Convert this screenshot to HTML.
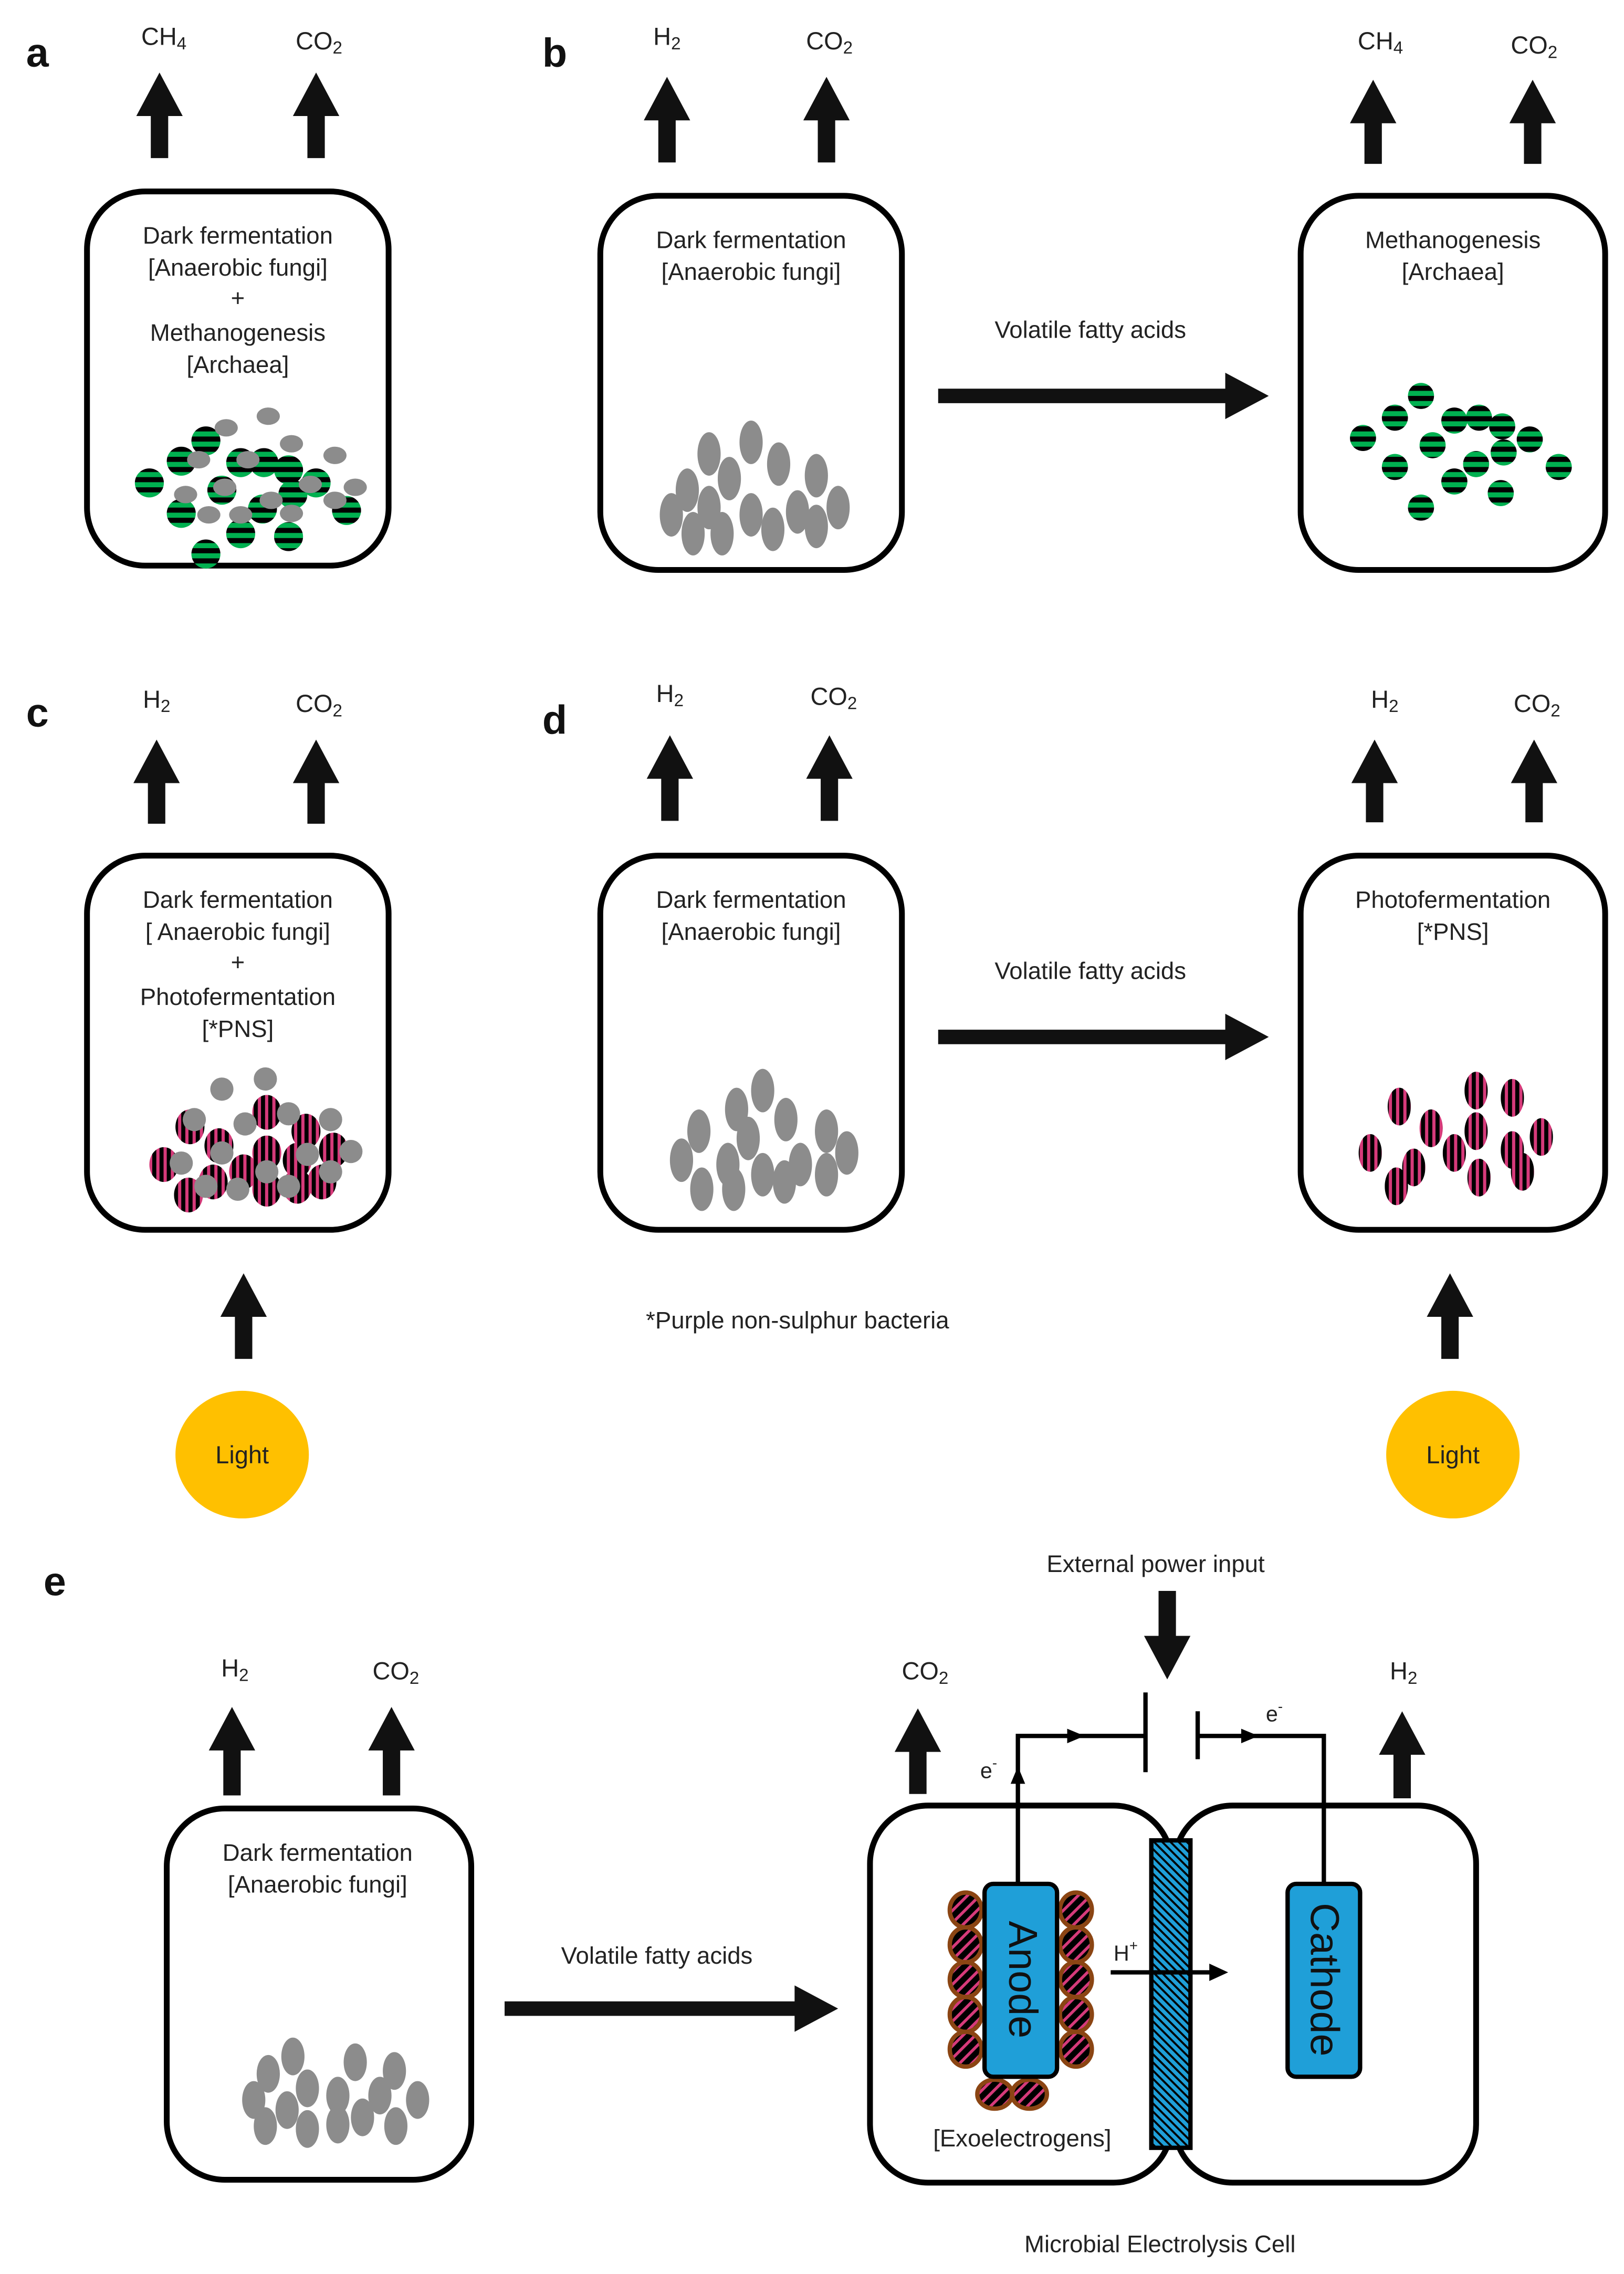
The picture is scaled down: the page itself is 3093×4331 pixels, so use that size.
<!DOCTYPE html>
<html><head><meta charset="utf-8"><style>html,body{margin:0;padding:0;background:#fff}svg{display:block}</style></head>
<body>
<svg xmlns="http://www.w3.org/2000/svg" width="3093" height="4331" viewBox="0 0 1120 1568" preserveAspectRatio="none" font-family="Liberation Sans, sans-serif">
<defs>
<pattern id="gr" patternUnits="userSpaceOnUse" width="8" height="7"><rect width="8" height="7" fill="#000"/><rect y="3.5" width="8" height="3.5" fill="#00B050"/></pattern>
<pattern id="pk" patternUnits="userSpaceOnUse" width="5" height="8"><rect width="5" height="8" fill="#000"/><rect x="2.8" width="2.2" height="8" fill="#D63A7A"/></pattern>
<pattern id="ex" patternUnits="userSpaceOnUse" width="6" height="6" patternTransform="rotate(45)"><rect width="6" height="6" fill="#000"/><rect x="3" width="2" height="6" fill="#D63A7A"/></pattern>
<pattern id="mem" patternUnits="userSpaceOnUse" width="4" height="4" patternTransform="rotate(-45)"><rect width="4" height="4" fill="#1F9FD8"/><rect width="1.4" height="4" fill="#000"/></pattern>
</defs>
<rect width="1120" height="1568" fill="#fff"/>

<g font-weight="bold" font-size="28" fill="#111">
<text x="18" y="46">a</text><text x="374" y="46">b</text><text x="18" y="501">c</text><text x="374" y="506">d</text><text x="30" y="1100">e</text>
</g>

<g fill="#111">
<!-- up arrows -->
<polygon points="110,50 126,80 116,80 116,109 104,109 104,80 94,80"/>
<polygon points="218,50 234,80 224,80 224,109 212,109 212,80 202,80"/>
<polygon points="460,53 476,83 466,83 466,112 454,112 454,83 444,83"/>
<polygon points="570,53 586,83 576,83 576,112 564,112 564,83 554,83"/>
<polygon points="947,55 963,85 953,85 953,113 941,113 941,85 931,85"/>
<polygon points="1057,55 1073,85 1063,85 1063,113 1051,113 1051,85 1041,85"/>
<polygon points="108,510 124,540 114,540 114,568 102,568 102,540 92,540"/>
<polygon points="218,510 234,540 224,540 224,568 212,568 212,540 202,540"/>
<polygon points="462,507 478,537 468,537 468,566 456,566 456,537 446,537"/>
<polygon points="572,507 588,537 578,537 578,566 566,566 566,537 556,537"/>
<polygon points="948,510 964,540 954,540 954,567 942,567 942,540 932,540"/>
<polygon points="1058,510 1074,540 1064,540 1064,567 1052,567 1052,540 1042,540"/>
<polygon points="168,878 184,908 174,908 174,937 162,937 162,908 152,908"/>
<polygon points="1000,878 1016,908 1006,908 1006,937 994,937 994,908 984,908"/>
<polygon points="160,1177 176,1207 166,1207 166,1238 154,1238 154,1207 144,1207"/>
<polygon points="270,1177 286,1207 276,1207 276,1238 264,1238 264,1207 254,1207"/>
<polygon points="633,1178 649,1208 639,1208 639,1237 627,1237 627,1208 617,1208"/>
<polygon points="967,1180 983,1210 973,1210 973,1240 961,1240 961,1210 951,1210"/>
<!-- down arrow -->
<polygon points="805,1158 821,1128 811,1128 811,1097 799,1097 799,1128 789,1128"/>
<!-- horizontal arrows -->
<polygon points="647,268 845,268 845,257 875,273 845,289 845,278 647,278"/>
<polygon points="647,710 845,710 845,699 875,715 845,731 845,720 647,720"/>
<polygon points="348,1380 548,1380 548,1369 578,1385 548,1401 548,1390 348,1390"/>
</g>

<g font-size="17" fill="#222" text-anchor="middle">
<text x="113" y="31">CH<tspan font-size="12" dy="3">4</tspan></text>
<text x="220" y="34">CO<tspan font-size="12" dy="3">2</tspan></text>
<text x="460" y="31">H<tspan font-size="12" dy="3">2</tspan></text>
<text x="572" y="34">CO<tspan font-size="12" dy="3">2</tspan></text>
<text x="952" y="34">CH<tspan font-size="12" dy="3">4</tspan></text>
<text x="1058" y="37">CO<tspan font-size="12" dy="3">2</tspan></text>
<text x="108" y="488">H<tspan font-size="12" dy="3">2</tspan></text>
<text x="220" y="491">CO<tspan font-size="12" dy="3">2</tspan></text>
<text x="462" y="484">H<tspan font-size="12" dy="3">2</tspan></text>
<text x="575" y="486">CO<tspan font-size="12" dy="3">2</tspan></text>
<text x="955" y="488">H<tspan font-size="12" dy="3">2</tspan></text>
<text x="1060" y="491">CO<tspan font-size="12" dy="3">2</tspan></text>
<text x="162" y="1156">H<tspan font-size="12" dy="3">2</tspan></text>
<text x="273" y="1158">CO<tspan font-size="12" dy="3">2</tspan></text>
<text x="638" y="1158">CO<tspan font-size="12" dy="3">2</tspan></text>
<text x="968" y="1158">H<tspan font-size="12" dy="3">2</tspan></text>
</g>

<!-- boxes -->
<g fill="none" stroke="#000" stroke-width="4">
<rect x="60" y="132" width="208" height="258" rx="40"/>
<rect x="414" y="135" width="208" height="258" rx="40"/>
<rect x="897" y="135" width="210" height="258" rx="40"/>
<rect x="60" y="590" width="208" height="258" rx="40"/>
<rect x="414" y="590" width="208" height="258" rx="40"/>
<rect x="897" y="590" width="210" height="258" rx="40"/>
<rect x="115" y="1247" width="210" height="256" rx="40"/>
<rect x="600" y="1245" width="208" height="260" rx="40"/>
<rect x="810" y="1245" width="208" height="260" rx="40"/>
</g>

<g font-size="16.5" fill="#222" text-anchor="middle">
<text x="164" y="168">Dark fermentation</text><text x="164" y="190">[Anaerobic fungi]</text><text x="164" y="211">+</text><text x="164" y="235">Methanogenesis</text><text x="164" y="257">[Archaea]</text>
<text x="518" y="171">Dark fermentation</text><text x="518" y="193">[Anaerobic fungi]</text>
<text x="1002" y="171">Methanogenesis</text><text x="1002" y="193">[Archaea]</text>
<text x="752" y="233">Volatile fatty acids</text>
<text x="164" y="626">Dark fermentation</text><text x="164" y="648">[ Anaerobic fungi]</text><text x="164" y="669">+</text><text x="164" y="693">Photofermentation</text><text x="164" y="715">[*PNS]</text>
<text x="518" y="626">Dark fermentation</text><text x="518" y="648">[Anaerobic fungi]</text>
<text x="1002" y="626">Photofermentation</text><text x="1002" y="648">[*PNS]</text>
<text x="752" y="675">Volatile fatty acids</text>
<text x="550" y="916">*Purple non-sulphur bacteria</text>
<text x="219" y="1283">Dark fermentation</text><text x="219" y="1305">[Anaerobic fungi]</text>
<text x="453" y="1354">Volatile fatty acids</text>
<text x="797" y="1084">External power input</text>
<text x="705" y="1480">[Exoelectrogens]</text>
<text x="800" y="1553">Microbial Electrolysis Cell</text>
</g>

<!-- panel a cells -->
<g fill="url(#gr)">
<circle cx="103" cy="333" r="10"/><circle cx="125" cy="318" r="10"/><circle cx="142" cy="304" r="10"/><circle cx="125" cy="354" r="10"/><circle cx="153" cy="338" r="10"/><circle cx="166" cy="319" r="10"/><circle cx="182" cy="319" r="10"/><circle cx="199" cy="324" r="10"/><circle cx="218" cy="333" r="10"/><circle cx="202" cy="341" r="10"/><circle cx="181" cy="351" r="10"/><circle cx="166" cy="368" r="10"/><circle cx="199" cy="370" r="10"/><circle cx="239" cy="352" r="10"/><circle cx="142" cy="382" r="10"/>
</g>
<g fill="#8c8c8c">
<ellipse cx="156" cy="295" rx="8" ry="6"/><ellipse cx="185" cy="287" rx="8" ry="6"/><ellipse cx="201" cy="306" rx="8" ry="6"/><ellipse cx="231" cy="314" rx="8" ry="6"/><ellipse cx="137" cy="317" rx="8" ry="6"/><ellipse cx="171" cy="317" rx="8" ry="6"/><ellipse cx="155" cy="336" rx="8" ry="6"/><ellipse cx="128" cy="341" rx="8" ry="6"/><ellipse cx="214" cy="334" rx="8" ry="6"/><ellipse cx="245" cy="336" rx="8" ry="6"/><ellipse cx="187" cy="345" rx="8" ry="6"/><ellipse cx="144" cy="355" rx="8" ry="6"/><ellipse cx="166" cy="355" rx="8" ry="6"/><ellipse cx="201" cy="354" rx="8" ry="6"/><ellipse cx="231" cy="345" rx="8" ry="6"/>
</g>

<!-- grey fungi b, d, e -->
<g fill="#8c8c8c" id="gb">
<ellipse cx="518" cy="305" rx="8" ry="15"/><ellipse cx="489" cy="313" rx="8" ry="15"/><ellipse cx="537" cy="320" rx="8" ry="15"/><ellipse cx="503" cy="330" rx="8" ry="15"/><ellipse cx="474" cy="338" rx="8" ry="15"/><ellipse cx="563" cy="328" rx="8" ry="15"/><ellipse cx="489" cy="350" rx="8" ry="15"/><ellipse cx="550" cy="353" rx="8" ry="15"/><ellipse cx="578" cy="350" rx="8" ry="15"/><ellipse cx="463" cy="355" rx="8" ry="15"/><ellipse cx="518" cy="355" rx="8" ry="15"/><ellipse cx="478" cy="368" rx="8" ry="15"/><ellipse cx="498" cy="368" rx="8" ry="15"/><ellipse cx="533" cy="365" rx="8" ry="15"/><ellipse cx="563" cy="363" rx="8" ry="15"/>
</g>
<g fill="#8c8c8c">
<ellipse cx="526" cy="752" rx="8" ry="15"/><ellipse cx="508" cy="765" rx="8" ry="15"/><ellipse cx="542" cy="772" rx="8" ry="15"/><ellipse cx="516" cy="785" rx="8" ry="15"/><ellipse cx="482" cy="780" rx="8" ry="15"/><ellipse cx="570" cy="780" rx="8" ry="15"/><ellipse cx="502" cy="803" rx="8" ry="15"/><ellipse cx="552" cy="803" rx="8" ry="15"/><ellipse cx="584" cy="795" rx="8" ry="15"/><ellipse cx="470" cy="800" rx="8" ry="15"/><ellipse cx="526" cy="810" rx="8" ry="15"/><ellipse cx="484" cy="820" rx="8" ry="15"/><ellipse cx="506" cy="820" rx="8" ry="15"/><ellipse cx="541" cy="815" rx="8" ry="15"/><ellipse cx="570" cy="810" rx="8" ry="15"/>
</g>
<g fill="#8c8c8c">
<ellipse cx="202" cy="1418" rx="8" ry="13"/><ellipse cx="185" cy="1430" rx="8" ry="13"/><ellipse cx="245" cy="1422" rx="8" ry="13"/><ellipse cx="272" cy="1428" rx="8" ry="13"/><ellipse cx="212" cy="1440" rx="8" ry="13"/><ellipse cx="175" cy="1448" rx="8" ry="13"/><ellipse cx="233" cy="1445" rx="8" ry="13"/><ellipse cx="262" cy="1445" rx="8" ry="13"/><ellipse cx="288" cy="1448" rx="8" ry="13"/><ellipse cx="198" cy="1455" rx="8" ry="13"/><ellipse cx="250" cy="1460" rx="8" ry="13"/><ellipse cx="183" cy="1466" rx="8" ry="13"/><ellipse cx="212" cy="1468" rx="8" ry="13"/><ellipse cx="233" cy="1465" rx="8" ry="13"/><ellipse cx="273" cy="1466" rx="8" ry="13"/>
</g>

<!-- green b -->
<g fill="url(#gr)">
<circle cx="980" cy="273" r="9"/><circle cx="962" cy="288" r="9"/><circle cx="1003" cy="290" r="9"/><circle cx="1020" cy="288" r="9"/><circle cx="1036" cy="294" r="9"/><circle cx="940" cy="302" r="9"/><circle cx="988" cy="307" r="9"/><circle cx="1055" cy="303" r="9"/><circle cx="1037" cy="312" r="9"/><circle cx="962" cy="322" r="9"/><circle cx="1018" cy="320" r="9"/><circle cx="1075" cy="322" r="9"/><circle cx="1003" cy="332" r="9"/><circle cx="1035" cy="340" r="9"/><circle cx="980" cy="350" r="9"/>
</g>

<!-- pink c -->
<g fill="url(#pk)">
<ellipse cx="113" cy="803" rx="10" ry="12"/><ellipse cx="131" cy="777" rx="10" ry="12"/><ellipse cx="151" cy="790" rx="10" ry="12"/><ellipse cx="184" cy="767" rx="10" ry="12"/><ellipse cx="211" cy="780" rx="10" ry="12"/><ellipse cx="184" cy="795" rx="10" ry="12"/><ellipse cx="168" cy="808" rx="10" ry="12"/><ellipse cx="205" cy="800" rx="10" ry="12"/><ellipse cx="230" cy="793" rx="10" ry="12"/><ellipse cx="130" cy="824" rx="10" ry="12"/><ellipse cx="147" cy="815" rx="10" ry="12"/><ellipse cx="184" cy="820" rx="10" ry="12"/><ellipse cx="205" cy="818" rx="10" ry="12"/><ellipse cx="222" cy="815" rx="10" ry="12"/>
</g>
<g fill="#8c8c8c">
<circle cx="153" cy="751" r="8"/><circle cx="183" cy="744" r="8"/><circle cx="169" cy="775" r="8"/><circle cx="199" cy="768" r="8"/><circle cx="134" cy="772" r="8"/><circle cx="228" cy="772" r="8"/><circle cx="242" cy="794" r="8"/><circle cx="125" cy="802" r="8"/><circle cx="153" cy="795" r="8"/><circle cx="184" cy="808" r="8"/><circle cx="212" cy="796" r="8"/><circle cx="228" cy="808" r="8"/><circle cx="142" cy="818" r="8"/><circle cx="164" cy="820" r="8"/><circle cx="199" cy="818" r="8"/>
</g>

<!-- pink d -->
<g fill="url(#pk)">
<ellipse cx="965" cy="763" rx="8" ry="13"/><ellipse cx="987" cy="778" rx="8" ry="13"/><ellipse cx="1043" cy="757" rx="8" ry="13"/><ellipse cx="1018" cy="752" rx="8" ry="13"/><ellipse cx="1043" cy="793" rx="8" ry="13"/><ellipse cx="1018" cy="780" rx="8" ry="13"/><ellipse cx="1063" cy="784" rx="8" ry="13"/><ellipse cx="945" cy="795" rx="8" ry="13"/><ellipse cx="975" cy="805" rx="8" ry="13"/><ellipse cx="1003" cy="795" rx="8" ry="13"/><ellipse cx="1020" cy="812" rx="8" ry="13"/><ellipse cx="1050" cy="808" rx="8" ry="13"/><ellipse cx="963" cy="818" rx="8" ry="13"/>
</g>

<!-- Light -->
<ellipse cx="167" cy="1003" rx="46" ry="44" fill="#FFC000"/>
<ellipse cx="1002" cy="1003" rx="46" ry="44" fill="#FFC000"/>
<g font-size="17" fill="#222" text-anchor="middle"><text x="167" y="1009">Light</text><text x="1002" y="1009">Light</text></g>

<!-- MEC -->
<rect x="794" y="1269" width="27" height="212" fill="url(#mem)" stroke="#000" stroke-width="3"/>
<g stroke="#000" stroke-width="3" fill="none">
<polyline points="702,1298 702,1197 790,1197"/>
<line x1="790" y1="1167" x2="790" y2="1222"/>
<line x1="826" y1="1180" x2="826" y2="1213"/>
<polyline points="826,1197 913,1197 913,1300"/>
<line x1="766" y1="1360" x2="835" y2="1360"/>
</g>
<g fill="#000">
<polygon points="748,1197 736,1192 736,1202"/>
<polygon points="868,1197 856,1192 856,1202"/>
<polygon points="702,1218 697,1230 707,1230"/>
<polygon points="847,1360 834,1354 834,1366"/>
</g>
<g font-size="15" fill="#222"><text x="676" y="1226">e<tspan font-size="10" dy="-7">-</tspan></text><text x="873" y="1187">e<tspan font-size="10" dy="-7">-</tspan></text><text x="768" y="1352">H<tspan font-size="10" dy="-7">+</tspan></text></g>
<g fill="url(#ex)" stroke="#8B4513" stroke-width="3">
<ellipse cx="666" cy="1317" rx="11" ry="12"/><ellipse cx="666" cy="1341" rx="11" ry="12"/><ellipse cx="666" cy="1365" rx="11" ry="12"/><ellipse cx="666" cy="1389" rx="11" ry="12"/><ellipse cx="666" cy="1413" rx="11" ry="12"/>
<ellipse cx="742" cy="1317" rx="11" ry="12"/><ellipse cx="742" cy="1341" rx="11" ry="12"/><ellipse cx="742" cy="1365" rx="11" ry="12"/><ellipse cx="742" cy="1389" rx="11" ry="12"/><ellipse cx="742" cy="1413" rx="11" ry="12"/>
<ellipse cx="686" cy="1444" rx="12" ry="10"/><ellipse cx="710" cy="1444" rx="12" ry="10"/>
</g>
<rect x="679" y="1299" width="50" height="133" rx="6" fill="#1F9FD8" stroke="#000" stroke-width="3"/>
<rect x="888" y="1299" width="50" height="133" rx="6" fill="#1F9FD8" stroke="#000" stroke-width="3"/>
<g font-size="28" fill="#111" text-anchor="middle">
<text transform="translate(696,1365) rotate(90)">Anode</text>
<text transform="translate(904,1365) rotate(90)">Cathode</text>
</g>
</svg>
</body></html>
